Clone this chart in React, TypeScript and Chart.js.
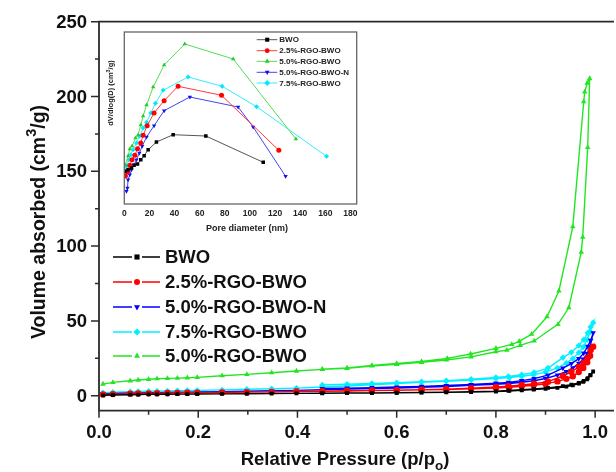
import React, { useEffect, useRef } from "react";
import { Chart, registerables } from "chart.js";
Chart.register(...registerables);

const FONT = '"Liberation Sans", Arial, Helvetica, sans-serif';

// ---------- main isotherm data (relative pressure p/p0, volume cm3/g) ----------
const P_ADS = [0.008, 0.028, 0.063, 0.079, 0.1, 0.117, 0.138, 0.158, 0.178, 0.198, 0.248, 0.298, 0.348, 0.398, 0.45, 0.5, 0.55, 0.6, 0.65, 0.7, 0.75, 0.8, 0.827, 0.852, 0.876, 0.9, 0.924, 0.942, 0.955, 0.967, 0.976, 0.984, 0.99, 0.996];
const P_DES = [0.991, 0.985, 0.977, 0.967, 0.952, 0.935, 0.905, 0.877, 0.852, 0.825, 0.8, 0.75, 0.7, 0.65, 0.6, 0.55, 0.5, 0.45];

const BWO_ADS = [0.3, 0.5, 0.7, 0.8, 0.9, 0.95, 1.0, 1.05, 1.1, 1.15, 1.25, 1.35, 1.45, 1.55, 1.65, 1.75, 1.85, 1.95, 2.1, 2.3, 2.5, 2.8, 3.2, 3.6, 4.1, 4.6, 5.3, 6.1, 7.0, 8.2, 9.3, 11.0, 13.6, 16.2];
const BWO_DES = [14.0, 11.8, 9.9, 8.5, 7.4, 6.4, 5.2, 4.5, 4.0, 3.5, 3.1, 2.7, 2.4, 2.2, 2.0, 1.9, 1.8, 1.7];

const RGO25_ADS = [0.9, 1.1, 1.4, 1.5, 1.6, 1.7, 1.8, 1.9, 2.0, 2.05, 2.2, 2.4, 2.6, 2.8, 3.0, 3.2, 3.4, 3.6, 3.9, 4.2, 4.6, 5.2, 5.7, 6.3, 7.0, 7.9, 9.6, 11.3, 13.0, 15.8, 18.6, 22.4, 26.8, 32.8];
const RGO25_DES = [30.5, 25.4, 22.0, 19.4, 16.0, 13.2, 9.4, 8.0, 7.2, 6.4, 5.8, 5.0, 4.4, 4.0, 3.7, 3.5, 3.3, 3.1];

const RGO50N_ADS = [1.2, 1.5, 1.8, 1.9, 2.0, 2.1, 2.2, 2.3, 2.4, 2.5, 2.7, 3.0, 3.3, 3.6, 4.0, 4.4, 4.8, 5.2, 5.6, 6.2, 6.9, 7.7, 8.2, 9.0, 10.0, 11.5, 13.8, 16.2, 18.6, 21.6, 24.5, 28.2, 33.0, 42.0];
const RGO50N_DES = [37.0, 33.0, 28.5, 24.8, 21.5, 18.5, 13.8, 11.4, 10.1, 8.9, 8.4, 7.5, 6.8, 6.2, 5.8, 5.4, 5.1, 4.8];

const RGO75_ADS = [2.0, 2.3, 2.7, 2.8, 3.0, 3.1, 3.2, 3.4, 3.5, 3.6, 3.9, 4.3, 4.7, 5.1, 5.8, 6.5, 7.3, 8.1, 9.0, 9.7, 10.5, 11.5, 12.1, 13.0, 14.0, 15.8, 18.6, 21.8, 24.8, 28.8, 32.5, 37.5, 42.8, 48.8];
const RGO75_DES = [46.0, 42.0, 37.5, 33.5, 29.0, 25.5, 18.5, 15.6, 14.0, 12.9, 12.2, 11.1, 10.0, 9.3, 8.7, 8.2, 7.7, 7.2];

const P_ADS_G = [0.008, 0.028, 0.063, 0.079, 0.1, 0.117, 0.138, 0.158, 0.178, 0.198, 0.248, 0.298, 0.348, 0.398, 0.45, 0.5, 0.55, 0.6, 0.65, 0.7, 0.75, 0.8, 0.822, 0.849, 0.877, 0.925, 0.947, 0.972, 0.975, 0.985, 0.989];
const RGO50_ADS = [7.8, 8.9, 10.0, 10.5, 11.0, 11.4, 11.6, 11.8, 12.0, 12.3, 13.4, 14.3, 15.4, 16.5, 17.6, 18.3, 19.9, 21.0, 22.3, 23.9, 26.0, 29.4, 30.5, 33.7, 36.6, 47.7, 58.8, 96.0, 106.0, 166.0, 212.0];
const P_DES_G = [0.984, 0.979, 0.977, 0.955, 0.927, 0.903, 0.872, 0.847, 0.832, 0.8, 0.749, 0.702, 0.65, 0.6, 0.55, 0.5, 0.45];
const RGO50_DES = [209.0, 203.0, 196.5, 113.0, 70.0, 52.8, 41.2, 36.4, 34.3, 31.7, 27.9, 25.0, 23.0, 21.5, 20.2, 18.6, 17.7];

const MAIN_NAMES = ["BWO", "2.5%-RGO-BWO", "5.0%-RGO-BWO-N", "7.5%-RGO-BWO", "5.0%-RGO-BWO"];
const MAIN_COLORS = ["#000000", "#ff0000", "#0000ff", "#00f0ff", "#22e622"];
const MAIN_MARKERS = ["rect", "circle", "triDown", "diamond", "triUp"];

const X_TICKS = [0, 0.2, 0.4, 0.6, 0.8, 1.0];
const X_TICK_LABELS = ["0.0", "0.2", "0.4", "0.6", "0.8", "1.0"];
const X_MINOR = [0.1, 0.3, 0.5, 0.7, 0.9];
const Y_TICKS = [0, 50, 100, 150, 200, 250];
const Y_TICK_LABELS = ["0", "50", "100", "150", "200", "250"];
const Y_MINOR = [25, 75, 125, 175, 225];

// ---------- inset pore-size distribution (pore diameter nm, dV/dlog(D) arb.) ----------
const INSET_BWO_D = [0.4, 3.0, 5.7, 7.8, 10.5, 13.1, 15.8, 19.0, 25.6, 38.9, 64.9, 110.6];
const INSET_BWO_V = [32.7, 34.3, 36.0, 38.7, 40.0, 44.3, 48.3, 54.3, 62.0, 69.3, 68.0, 41.7];
const INSET_RGO25_D = [0.9, 2.5, 4.4, 6.2, 8.4, 10.5, 13.1, 15.0, 18.2, 23.7, 31.7, 42.8, 77.4, 123.0];
const INSET_RGO25_V = [28.0, 32.0, 38.7, 44.3, 48.7, 55.3, 61.0, 68.7, 78.3, 91.0, 103.3, 117.7, 108.7, 53.7];
const INSET_RGO50_D = [0.9, 3.0, 4.4, 6.2, 8.9, 11.0, 13.1, 15.0, 17.7, 23.0, 31.7, 48.2, 86.7, 136.6];
const INSET_RGO50_V = [39, 48, 55, 58, 66, 69, 79, 88, 99, 117, 139, 160, 145, 65];
const INSET_RGO50N_D = [1.7, 2.5, 3.0, 4.4, 5.7, 7.8, 9.7, 12.0, 14.2, 17.7, 23.7, 31.7, 52.2, 90.6, 102.6, 128.4];
const INSET_RGO50N_V = [12.7, 16.0, 24.3, 29.3, 34.3, 39.3, 44.3, 51.0, 57.7, 67.0, 78.3, 93.3, 107.0, 97.0, 77.0, 27.7];
const INSET_RGO75_D = [0.4, 1.7, 3.6, 5.2, 7.0, 9.7, 12.3, 15.0, 17.7, 21.1, 24.8, 30.9, 50.8, 77.9, 105.3, 161.0];
const INSET_RGO75_V = [32.7, 37.7, 44.3, 49.3, 54.3, 61.0, 67.7, 76.0, 81.7, 91.0, 100.7, 113.7, 127.0, 117.7, 97.3, 47.7];

const INSET_NAMES = ["BWO", "2.5%-RGO-BWO", "5.0%-RGO-BWO", "5.0%-RGO-BWO-N", "7.5%-RGO-BWO"];
const INSET_COLORS = ["#555555", "#ff3a3a", "#55dd55", "#4444ee", "#33eeff"];
const INSET_MARKER_COLORS = ["#000000", "#ff0000", "#22cc22", "#1111ee", "#00e8ff"];
const INSET_MARKERS = ["rect", "circle", "triUp", "triDown", "diamond"];
const INSET_X_TICKS = [0, 20, 40, 60, 80, 100, 120, 140, 160, 180];

// ---------- helpers ----------
function toXY(xs: number[], ys: number[]) {
  return xs.map((x, i) => ({ x, y: ys[i] }));
}

function cjsStyle(m: string) {
  if (m === "rect") return { pointStyle: "rect", rotation: 0 };
  if (m === "circle") return { pointStyle: "circle", rotation: 0 };
  if (m === "triUp") return { pointStyle: "triangle", rotation: 0 };
  if (m === "triDown") return { pointStyle: "triangle", rotation: 180 };
  return { pointStyle: "rectRot", rotation: 0 };
}

function drawMarker(ctx: CanvasRenderingContext2D, m: string, x: number, y: number, r: number, color: string) {
  ctx.save();
  ctx.fillStyle = color;
  ctx.beginPath();
  if (m === "rect") {
    ctx.rect(x - r * 0.85, y - r * 0.85, r * 1.7, r * 1.7);
  } else if (m === "circle") {
    ctx.arc(x, y, r, 0, Math.PI * 2);
  } else if (m === "triUp") {
    ctx.moveTo(x, y - r * 1.15);
    ctx.lineTo(x + r, y + r * 0.6);
    ctx.lineTo(x - r, y + r * 0.6);
    ctx.closePath();
  } else if (m === "triDown") {
    ctx.moveTo(x, y + r * 1.15);
    ctx.lineTo(x + r, y - r * 0.6);
    ctx.lineTo(x - r, y - r * 0.6);
    ctx.closePath();
  } else {
    ctx.moveTo(x, y - r * 1.2);
    ctx.lineTo(x + r * 1.2, y);
    ctx.lineTo(x, y + r * 1.2);
    ctx.lineTo(x - r * 1.2, y);
    ctx.closePath();
  }
  ctx.fill();
  ctx.restore();
}

type Part = { t: string; size: number; dy: number };
function drawRich(ctx: CanvasRenderingContext2D, parts: Part[], cx: number, cy: number, color: string) {
  ctx.save();
  ctx.fillStyle = color;
  ctx.textBaseline = "alphabetic";
  ctx.textAlign = "left";
  let total = 0;
  const widths = parts.map((p) => {
    ctx.font = `bold ${p.size}px ${FONT}`;
    const w = ctx.measureText(p.t).width;
    total += w;
    return w;
  });
  const mainSize = parts[0].size;
  let x = cx - total / 2;
  const base = cy + mainSize * 0.36;
  parts.forEach((p, i) => {
    ctx.font = `bold ${p.size}px ${FONT}`;
    ctx.fillText(p.t, x, base + p.dy);
    x += widths[i];
  });
  ctx.restore();
}

// ---------- plugins ----------
const mainDecor = {
  id: "mainDecor",
  afterDraw(chart: any) {
    const { ctx, chartArea, scales } = chart;
    const { left, right, top, bottom } = chartArea;
    const xs = scales.x;
    const ys = scales.y;
    ctx.save();
    ctx.strokeStyle = "#2a2a2a";
    ctx.lineWidth = 1.8;
    ctx.beginPath();
    ctx.moveTo(left, top);
    ctx.lineTo(right + 2, top);
    ctx.moveTo(left, top - 0.9);
    ctx.lineTo(left, bottom);
    ctx.lineTo(right + 2, bottom);
    ctx.stroke();

    ctx.lineWidth = 1.5;
    ctx.beginPath();
    Y_TICKS.forEach((v) => {
      const py = ys.getPixelForValue(v);
      ctx.moveTo(left - 8, py);
      ctx.lineTo(left, py);
    });
    Y_MINOR.forEach((v) => {
      const py = ys.getPixelForValue(v);
      ctx.moveTo(left - 4, py);
      ctx.lineTo(left, py);
    });
    X_TICKS.forEach((v) => {
      const px = xs.getPixelForValue(v);
      ctx.moveTo(px, bottom);
      ctx.lineTo(px, bottom + 7);
    });
    X_MINOR.forEach((v) => {
      const px = xs.getPixelForValue(v);
      ctx.moveTo(px, bottom);
      ctx.lineTo(px, bottom + 4);
    });
    ctx.stroke();

    ctx.fillStyle = "#111";
    ctx.font = `bold 18.5px ${FONT}`;
    ctx.textAlign = "right";
    ctx.textBaseline = "middle";
    Y_TICKS.forEach((v, i) => {
      ctx.fillText(Y_TICK_LABELS[i], left - 12, ys.getPixelForValue(v) + 1);
    });
    ctx.textAlign = "center";
    X_TICKS.forEach((v, i) => {
      ctx.fillText(X_TICK_LABELS[i], xs.getPixelForValue(v), bottom + 22);
    });

    drawRich(
      ctx,
      [
        { t: "Relative Pressure (p/p", size: 18.5, dy: 0 },
        { t: "o", size: 13.5, dy: 5 },
        { t: ")", size: 18.5, dy: 0 },
      ],
      345,
      458,
      "#111"
    );

    ctx.save();
    ctx.translate(38, 222);
    ctx.rotate(-Math.PI / 2);
    drawRich(
      ctx,
      [
        { t: "Volume absorbed (cm", size: 19.5, dy: 0 },
        { t: "3", size: 14.5, dy: -9 },
        { t: "/g)", size: 19.5, dy: 0 },
      ],
      0,
      0,
      "#111"
    );
    ctx.restore();

    // legend
    const rows = [257, 282, 307, 332, 356];
    MAIN_NAMES.forEach((name, i) => {
      const y = rows[i];
      ctx.strokeStyle = MAIN_COLORS[i];
      ctx.lineWidth = 1.5;
      ctx.beginPath();
      ctx.moveTo(113, y);
      ctx.lineTo(132, y);
      ctx.moveTo(142, y);
      ctx.lineTo(160, y);
      ctx.stroke();
      drawMarker(ctx, MAIN_MARKERS[i], 137, y, 3, MAIN_COLORS[i]);
      ctx.fillStyle = "#111";
      ctx.font = `bold 18.5px ${FONT}`;
      ctx.textAlign = "left";
      ctx.textBaseline = "middle";
      ctx.fillText(name, 165, y + 1);
    });
    ctx.restore();
  },
};

const insetDecor = {
  id: "insetDecor",
  afterDraw(chart: any) {
    const { ctx, chartArea, scales } = chart;
    const { left, right, top, bottom } = chartArea;
    const xs = scales.x;
    ctx.save();
    ctx.strokeStyle = "#666";
    ctx.lineWidth = 1.3;
    ctx.strokeRect(left, top, right - left, bottom - top);

    ctx.fillStyle = "#222";
    ctx.font = `bold 8.5px ${FONT}`;
    ctx.textAlign = "center";
    ctx.textBaseline = "middle";
    INSET_X_TICKS.forEach((v) => {
      ctx.fillText(String(v), xs.getPixelForValue(v), bottom + 9.5);
    });

    drawRich(ctx, [{ t: "Pore diameter (nm)", size: 9, dy: 0 }], 147, 203, "#222");

    ctx.save();
    ctx.translate(10, 68);
    ctx.rotate(-Math.PI / 2);
    drawRich(
      ctx,
      [
        { t: "dV/dlog(D) (cm", size: 7.5, dy: 0 },
        { t: "3", size: 5.5, dy: -3 },
        { t: "/g)", size: 7.5, dy: 0 },
      ],
      0,
      0,
      "#222"
    );
    ctx.restore();

    const rows = [14.7, 25.7, 36.3, 47.3, 58];
    INSET_NAMES.forEach((name, i) => {
      const y = rows[i];
      ctx.strokeStyle = INSET_COLORS[i];
      ctx.lineWidth = 1;
      ctx.beginPath();
      ctx.moveTo(156.7, y);
      ctx.lineTo(177.3, y);
      ctx.stroke();
      drawMarker(ctx, INSET_MARKERS[i], 167.2, y, 2.4, INSET_MARKER_COLORS[i]);
      ctx.fillStyle = "#222";
      ctx.font = `bold 8px ${FONT}`;
      ctx.textAlign = "left";
      ctx.textBaseline = "middle";
      ctx.fillText(name, 179.3, y + 0.5);
    });
    ctx.restore();
  },
};

export default function App() {
  const mainRef = useRef<HTMLCanvasElement>(null);
  const insetRef = useRef<HTMLCanvasElement>(null);

  useEffect(() => {
    const mainSeries = [
      [...toXY(P_ADS, BWO_ADS), ...toXY(P_DES, BWO_DES)],
      [...toXY(P_ADS, RGO25_ADS), ...toXY(P_DES, RGO25_DES)],
      [...toXY(P_ADS, RGO50N_ADS), ...toXY(P_DES, RGO50N_DES)],
      [...toXY(P_ADS, RGO75_ADS), ...toXY(P_DES, RGO75_DES)],
      [...toXY(P_ADS_G, RGO50_ADS), ...toXY(P_DES_G, RGO50_DES)],
    ];
    const mainChart = new Chart(mainRef.current as HTMLCanvasElement, {
      type: "scatter",
      data: {
        datasets: mainSeries.map((d, i) => {
          const s = cjsStyle(MAIN_MARKERS[i]);
          return {
            label: MAIN_NAMES[i],
            data: d,
            showLine: true,
            borderColor: MAIN_COLORS[i],
            backgroundColor: MAIN_COLORS[i],
            borderWidth: 1.4,
            pointStyle: s.pointStyle as any,
            rotation: s.rotation,
            pointRadius: MAIN_MARKERS[i] === "rect" ? 2.7 : 3.2,
            pointBorderWidth: 0,
            tension: 0,
          } as any;
        }),
      },
      options: {
        animation: false,
        responsive: false,
        maintainAspectRatio: false,
        layout: { padding: { left: 99, top: 21.7, right: 0, bottom: 61.3 } },
        plugins: { legend: { display: false }, tooltip: { enabled: false }, title: { display: false } },
        scales: {
          x: { type: "linear", display: false, min: 0, max: 1.034 },
          y: { type: "linear", display: false, min: -10, max: 250 },
        },
        events: [],
      },
      plugins: [mainDecor],
    });

    const insetSeries = [
      toXY(INSET_BWO_D, INSET_BWO_V),
      toXY(INSET_RGO25_D, INSET_RGO25_V),
      toXY(INSET_RGO50_D, INSET_RGO50_V),
      toXY(INSET_RGO50N_D, INSET_RGO50N_V),
      toXY(INSET_RGO75_D, INSET_RGO75_V),
    ];
    const insetChart = new Chart(insetRef.current as HTMLCanvasElement, {
      type: "scatter",
      data: {
        datasets: insetSeries.map((d, i) => {
          const s = cjsStyle(INSET_MARKERS[i]);
          return {
            label: INSET_NAMES[i],
            data: d,
            showLine: true,
            borderColor: INSET_COLORS[i],
            backgroundColor: INSET_MARKER_COLORS[i],
            borderWidth: 1,
            pointStyle: s.pointStyle as any,
            rotation: s.rotation,
            pointRadius: 2.5,
            pointBorderWidth: 0,
            tension: 0,
          } as any;
        }),
      },
      options: {
        animation: false,
        responsive: false,
        maintainAspectRatio: false,
        layout: { padding: { left: 24.3, top: 7, right: 8.3, bottom: 36 } },
        plugins: { legend: { display: false }, tooltip: { enabled: false }, title: { display: false } },
        scales: {
          x: { type: "linear", display: false, min: 0, max: 185 },
          y: { type: "linear", display: false, min: 0, max: 172 },
        },
        events: [],
      },
      plugins: [insetDecor],
    });

    return () => {
      mainChart.destroy();
      insetChart.destroy();
    };
  }, []);

  return (
    <div style={{ position: "fixed", left: 0, top: 0, width: 616, height: 472, background: "#fff", overflow: "hidden" }}>
      <canvas ref={mainRef} width={616} height={472} style={{ position: "absolute", left: 0, top: 0, width: 616, height: 472 }} />
      <canvas ref={insetRef} width={265} height={215} style={{ position: "absolute", left: 100, top: 25, width: 265, height: 215 }} />
    </div>
  );
}
